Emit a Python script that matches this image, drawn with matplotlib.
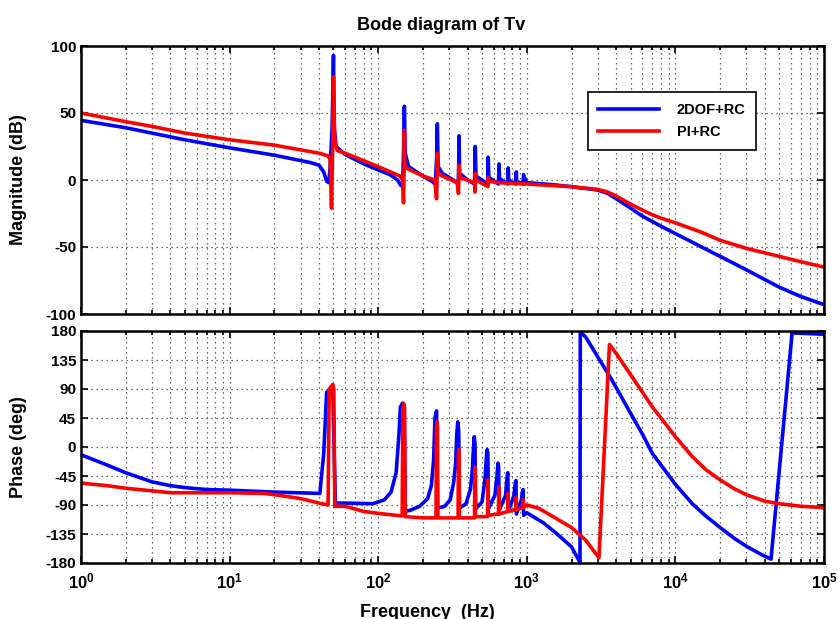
import matplotlib
matplotlib.use("Agg")
import matplotlib.pyplot as plt
import numpy as np
from matplotlib.ticker import FuncFormatter, LogLocator, NullFormatter

plt.rcParams['font.family'] = ['Liberation Sans', 'DejaVu Sans']
plt.rcParams['font.weight'] = 'bold'
plt.rcParams['axes.unicode_minus'] = False
plt.rcParams['mathtext.fontset'] = 'custom'
plt.rcParams['mathtext.bf'] = 'Liberation Sans:bold'
plt.rcParams['mathtext.rm'] = 'Liberation Sans:bold'

# magnitude, 2DOF+RC
f_mag_2dof = [1, 2, 3, 5, 10, 20, 35, 40, 43, 45, 46.5, 47.5, 49, 50, 50.5, 52, 60, 80, 100,
              120, 135, 142, 146, 148, 150, 152, 160, 200, 230, 242, 247, 250, 253, 270, 330,
              345, 348, 350, 353, 400, 445, 450, 455, 545, 550, 555, 645, 650, 655, 745, 750,
              755, 845, 850, 855, 945, 950, 1000, 1500, 2000, 3000, 3500, 4000, 5000, 6000,
              7000, 8000, 10000, 15000, 20000, 30000, 50000, 70000, 100000]
mag_2dof = [44.5, 39, 35, 30, 24, 18.5, 13, 11, 6, -1, -2, 10, 40, 93, 40, 25, 19, 12, 7.5,
            4, 0, -4, -5, 20, 55, 20, 10, 3, -1, -3, 15, 42, 10, 5, -1,
            -3, 10, 33, 5, 0, -3, 25, 3, -3, 17, 2, -3, 12, 1, -3, 9,
            0, -3, 6, -1, -3, 4, -2, -3.5, -5, -7.5, -10, -14, -21, -27,
            -31, -34.5, -40, -50, -57, -67, -80, -87, -93]

# magnitude, PI+RC
f_mag_pi = [1, 2, 3, 5, 10, 20, 40, 46, 47.5, 48.5, 49.5, 50, 51, 53, 60, 100, 140, 146, 148,
            149.5, 150, 151, 160, 200, 240, 247, 249.5, 250, 252, 270, 340, 347, 350, 353,
            445, 448, 450, 455, 548, 550, 555, 650, 1000, 2000, 3000, 3500, 4000, 5000, 6000,
            7000, 8000, 10000, 15000, 20000, 30000, 50000, 70000, 100000]
mag_pi = [50, 43.5, 40, 35, 30, 26, 20, 18, 15, -21, 30, 77, 30, 22, 20, 10, 3, 0, -17,
          10, 37, 10, 8, 3, 0, -14, 5, 20, 5, 3, -2, -10, 11, 2,
          -2, -9, 5, 0, -5, 2, -1, -2, -3, -5, -7, -9, -12, -18, -22.5,
          -26, -28.5, -32, -39, -45, -51, -57, -61, -65]

# phase, 2DOF+RC
f_ph_2dof = [1, 1.5, 2, 3, 4, 5, 7, 10, 20, 40.5, 43, 45, 47, 49.5, 51.5, 60, 92, 110, 122, 132,
             138, 141, 146, 149.5, 152, 165, 190, 215, 228, 236, 241, 247, 251, 280, 305, 322,
             332, 338, 343, 348, 352, 390, 418, 430, 438, 443, 448, 453, 500, 523, 535, 541,
             547, 552, 610, 630, 640, 646, 652, 720, 738, 745, 751, 820, 838, 845, 851, 920,
             938, 945, 951, 1000, 1300, 1600, 2000, 2280, 2290, 2500, 3000, 3500, 4000, 5000,
             6000, 7000, 8000, 10000, 13000, 16000, 20000, 25000, 30000, 38000, 44000, 61000,
             100000]
ph_2dof = [-12, -28, -40, -54, -60, -63, -66, -67, -70, -72, -10, 85, 88, 88, -87, -87, -88, -82,
           -70, -40, 20, 62, 68, 60, -100, -98, -92, -80, -60, -20, 45, 56, -95, -92, -82, -55,
           -25, 20, 39, 25, -95, -88, -65, -35, 0, 16, 5, -96, -85, -50, -15, -4,
           -10, -96, -75, -45, -25, -30, -98, -75, -45, -40, -100, -75, -55, -52, -104, -82,
           -68, -66, -106, -102, -118, -135, -155, -179, 179, 170, 140, 115, 92, 52,
           20, -10, -28, -58, -88, -107, -125, -142, -154, -167, -174, 177,
           175]

# phase, PI+RC
f_ph_pi = [1, 1.5, 2, 3, 4, 10, 17, 20, 30, 40, 46, 46.8, 49.5, 50.3, 51, 60, 80, 100, 145, 146.5,
           149, 150.5, 152, 200, 245, 246.5, 249, 250.5, 252, 345, 346.5, 349, 350.5, 352, 445,
           447, 449, 451, 545, 547, 549, 551, 645, 647, 649, 651, 745, 747, 749, 751, 845, 847,
           849, 851, 945, 947, 949, 951, 1000, 1200, 1500, 2000, 2500, 3060, 3600, 4000, 5000,
           6000, 7000, 8000, 10000, 13000, 16000, 20000, 25000, 30000, 40000, 50000, 70000,
           100000]
ph_pi = [-56, -60, -64, -68, -71, -71, -72, -74, -80, -87, -90, 90, 97, 90, -92, -92, -100, -103,
         -107, 60, 67, 60, -108, -110, -110, 30, 39, 30, -110, -110, -10, -4, -10, -110, -110,
         -31, -33, -108, -108, -51, -53, -106, -104, -62, -64, -104, -100, -72, -74, -100, -97,
         -78, -80, -97, -94, -82, -84, -94, -90, -95, -108, -125, -145, -172, 159, 145, 112,
         85, 62, 45, 16, -15, -35, -51, -65, -74, -84, -88, -92,
         -94]

labels = ['2DOF+RC', 'PI+RC']
colors = ['#0000ff', '#ff0000']

fig = plt.figure(figsize=(8.38, 6.19), dpi=100)
ax1 = fig.add_axes([81/838, 1-314/619, 743/838, 268/619])
ax2 = fig.add_axes([81/838, 1-563/619, 743/838, 232/619])

ax1.plot(f_mag_2dof, mag_2dof, color=colors[0], lw=2.6, label=labels[0])
ax1.plot(f_mag_pi, mag_pi, color=colors[1], lw=2.6, label=labels[1])
ax2.plot(f_ph_2dof, ph_2dof, color=colors[0], lw=2.6)
ax2.plot(f_ph_pi, ph_pi, color=colors[1], lw=2.6)


def dec_fmt(v, pos):
    return r'$\mathbf{10^{%d}}$' % int(round(np.log10(v)))


for ax in (ax1, ax2):
    ax.set_xscale('log')
    ax.set_xlim(1, 1e5)
    ax.xaxis.set_major_locator(LogLocator(base=10, numticks=10))
    ax.xaxis.set_minor_locator(LogLocator(base=10, subs=np.arange(2, 10), numticks=20))
    ax.xaxis.set_minor_formatter(NullFormatter())
    ax.grid(True, which='major', color='0.25', linestyle=(0, (1, 3)), lw=0.9)
    ax.grid(True, which='minor', axis='x', color='0.25', linestyle=(0, (1, 3)), lw=0.9)
    ax.tick_params(which='both', direction='in', top=True, right=True, labelsize=11, width=1.2)
    ax.tick_params(which='major', length=5)
    ax.tick_params(which='minor', length=3)
    for s in ax.spines.values():
        s.set_linewidth(1.8)

ax1.set_ylim(-100, 100)
ax1.set_yticks([-100, -50, 0, 50, 100])
ax1.xaxis.set_major_formatter(NullFormatter())
ax1.set_ylabel('Magnitude (dB)', fontsize=13, fontweight='bold')
ax1.yaxis.set_label_coords(-0.073, 0.5)

ax2.set_ylim(-180, 180)
ax2.set_yticks(np.arange(-180, 181, 45))
ax2.xaxis.set_major_formatter(FuncFormatter(dec_fmt))
ax2.tick_params(axis='x', labelsize=12, pad=6)
ax2.set_ylabel('Phase (deg)', fontsize=13, fontweight='bold')
ax2.yaxis.set_label_coords(-0.073, 0.5)
ax2.set_xlabel('Frequency  (Hz)', fontsize=13, fontweight='bold')
ax2.xaxis.set_label_coords((427-81)/743, -0.175)

for ax in (ax1, ax2):
    for t in ax.get_yticklabels():
        t.set_fontweight('bold')

leg = ax1.legend(loc='upper left', bbox_to_anchor=(0.672, 0.854), fancybox=False,
                 edgecolor='black', framealpha=1, handlelength=4.2,
                 handletextpad=1.2, borderpad=0.7, labelspacing=0.6,
                 prop={'weight': 'bold', 'size': 10.5})
leg.get_frame().set_linewidth(1.2)

fig.text(441/838, 1-25/619, 'Bode diagram of Tv', ha='center', va='center',
         fontsize=13, fontweight='bold')

fig.savefig('out.png', dpi=100)
